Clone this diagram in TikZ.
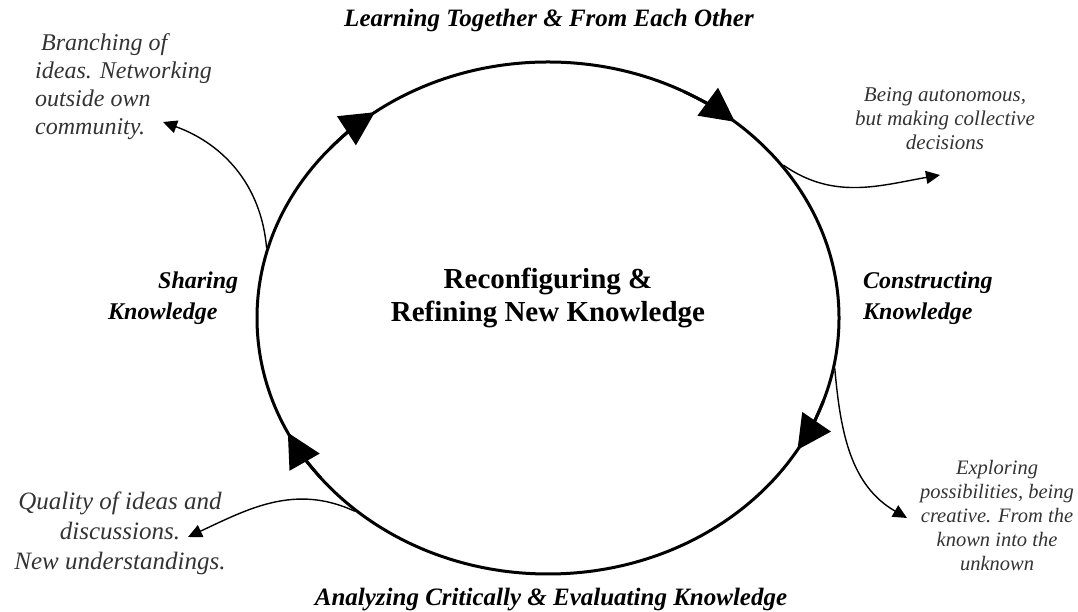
\documentclass[tikz,border=0pt]{standalone}
\usepackage{fontspec}
\setmainfont{Liberation Serif}
\usetikzlibrary{arrows.meta,shapes.geometric}

\tikzset{
  stage/.style={font=\bfseries\itshape\fontsize{24}{31}\selectfont, inner sep=0pt},
  remark/.style={text=black!80, inner sep=0pt, align=center},
  loopline/.style={line width=3pt},
  looparrow/.style={line width=3pt, -{Triangle[length=34pt,width=34pt]}},
  sidearrow/.style={line width=1.4pt, -{Triangle[length=14pt,width=13pt]}}
}

\begin{document}
\begin{tikzpicture}[x=1pt,y=1pt]
	\useasboundingbox (0,0) rectangle (1078,612);
	% the cycle
	\node[draw, ellipse, loopline, minimum width=582pt, minimum height=512pt, inner sep=0pt] (cycle) at (548,294) {};
	\node[font=\bfseries\fontsize{29}{33}\selectfont, align=center] (core) at (548,314) {Reconfiguring \&\\Refining New Knowledge};
	\foreach \a in {126.5,50,-31,206.6}
		\draw[looparrow] ([shift={(cycle.center)}]{\a+12}:291 and 256) arc[start angle=\a+12, end angle=\a, x radius=291, y radius=256];
	% stages
	\node[stage, font=\bfseries\itshape\fontsize{25}{31}\selectfont] (learning) at (549,592) {Learning Together \& From Each Other};
	\node[stage, align=left, anchor=west] (sharing) at (108,314) {\hspace*{50pt}Sharing\\Knowledge};
	\node[stage, align=left, anchor=west] (constructing) at (863,314) {Constructing\\Knowledge};
	\node[stage, font=\bfseries\itshape\fontsize{25}{31}\selectfont] (analyzing) at (551,12) {Analyzing Critically \& Evaluating Knowledge};
	% remarks
	\node[remark, align=left, anchor=west, font=\itshape\fontsize{24}{28}\selectfont] (branching) at (35,525) {\hspace*{6pt}Branching of\\ideas. Networking\\outside own\\community.};
	\node[remark, font=\itshape\fontsize{21}{24}\selectfont] (autonomous) at (945,493) {Being autonomous,\\but making collective\\decisions};
	\node[remark, font=\itshape\fontsize{20.5}{24}\selectfont] (exploring) at (997,96) {Exploring\\possibilities, being\\creative. From the\\known into the\\unknown};
	\node[remark, font=\itshape\fontsize{25}{30}\selectfont] (quality) at (120,79) {Quality of ideas and\\discussions.\\New understandings.};
	% side arrows
	\coordinate (branchtip) at (163,490);
	\coordinate (autotip) at (940,437);
	\coordinate (exploretip) at (907,94);
	\coordinate (qualitytip) at (188,75);
	\draw[sidearrow] (cycle.166) to[out=95,in=-20] (branchtip);
	\draw[sidearrow] (cycle.33) to[out=-35,in=190] (autotip);
	\draw[sidearrow] (cycle.-10) to[out=-85,in=150] (exploretip);
	\draw[sidearrow] (cycle.225) to[out=155,in=25] (qualitytip);
\end{tikzpicture}
\end{document}
